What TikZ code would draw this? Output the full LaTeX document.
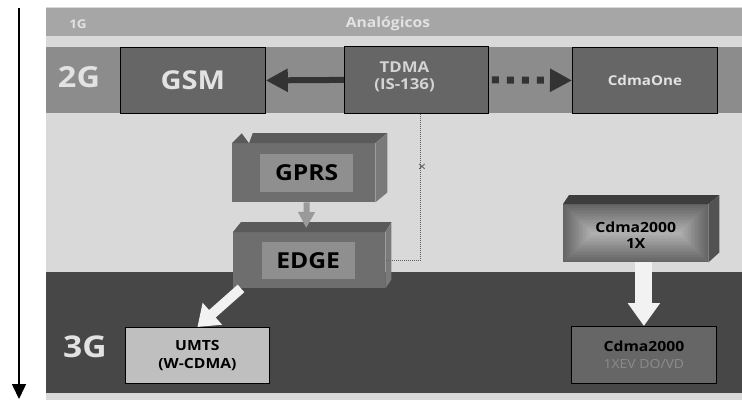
\documentclass[tikz,border=0pt]{standalone}
\usepackage{fontspec}
\setmainfont{Open Sans}[FakeStretch=1.12]
\usetikzlibrary{arrows.meta,calc}
\definecolor{panel}{HTML}{D9D9D9}
\definecolor{bandone}{HTML}{A6A6A6}
\definecolor{bandtwo}{HTML}{8C8C8C}
\definecolor{bandthree}{HTML}{474747}
\definecolor{boxgray}{HTML}{666666}
\definecolor{lighttext}{HTML}{E2E2E2}
\definecolor{tdmatext}{HTML}{D4D4D4}
\definecolor{darkarrow}{HTML}{333333}
\definecolor{frontgray}{HTML}{6E6E6E}
\definecolor{topgray}{HTML}{5A5A5A}
\definecolor{sidegray}{HTML}{7A7A7A}
\definecolor{labelgray}{HTML}{8F8F8F}
\definecolor{umtsgray}{HTML}{BFBFBF}
\definecolor{softgray}{HTML}{8C8C8C}
\definecolor{midgray}{HTML}{9A9A9A}
\definecolor{whitearrow}{HTML}{F2F2F2}
\begin{document}
\begin{tikzpicture}[x=1pt,y=-1pt,
  fnt/.style={font=\fontsize{#1}{#1}\selectfont\bfseries},
  fntl/.style 2 args={font=\fontsize{#1}{#2}\selectfont\bfseries},
  flatbox/.style={draw=black, line width=0.8pt, fill=boxgray, inner sep=0pt, anchor=north west, align=center},
  frontface/.style={fill=frontgray, inner sep=0pt, anchor=north west},
  labelbox/.style={fill=labelgray, inner sep=0pt, text=black},
  bandlabel/.style={text=lighttext, inner sep=0pt},
  darkline/.style={line width=6pt, darkarrow, -{Triangle[width=22pt,length=22pt]}},
  dotsline/.style={line width=7pt, darkarrow, dash pattern=on 7pt off 8pt, -{Triangle[width=22pt,length=22pt]}},
  thindots/.style={line width=1.1pt, black!62, dash pattern=on 0.9pt off 1.1pt},
]
\useasboundingbox (0,0) rectangle (742,400);
% background panel and bands
\fill[panel] (46,7) rectangle (742,400);
\fill[bandone] (46,8) rectangle (742,36);
\fill[bandtwo] (46,47) rectangle (742,113);
\fill[bandthree] (46,272) rectangle (742,393);

% left time arrow
\coordinate (tstart) at (19,8);
\coordinate (tend) at (19,399);
\draw[line width=1.6pt, -{Triangle[width=14pt,length=15pt]}] (tstart) -- (tend);

% band labels
\node[bandlabel, fnt=12] (g1) at (78,24) {1G};
\node[bandlabel, fnt=14] (analog) at (388,24) {Analógicos};
\node[bandlabel, fnt=29] (g2) at (79,77) {2G};
\node[bandlabel, fnt=30] (g3) at (85,347) {3G};

% 2G boxes
\node[flatbox, minimum width=145pt, minimum height=66pt, text=lighttext, fnt=26] (gsm) at (120,47) {GSM};
\node[flatbox, minimum width=144pt, minimum height=67pt] (tdma) at (344,46) {};
\node[inner sep=0pt, align=center, text=tdmatext, fntl={15}{17.5}] (tdmalabel) at (404.5,77) {TDMA\\(IS-136)};
\node[flatbox, minimum width=145pt, minimum height=66pt, text=lighttext, fnt=13.5] (cdmaone) at (572,47) {CdmaOne};

% GPRS 3D box
\node[frontface, minimum width=143pt, minimum height=59pt] (gprsbox) at (232,143) {};
\fill[topgray] (gprsbox.north west) -- ++(10,-10) -- ($(gprsbox.north east)+(12,-10)$) -- (gprsbox.north east) -- cycle;
\fill[sidegray] (gprsbox.north east) -- ++(12,-10) -- ($(gprsbox.south east)+(12,-10)$) -- (gprsbox.south east) -- cycle;
\fill[panel] (241,132) -- (253,132) -- (249,143) -- cycle;
\node[labelbox, minimum width=93pt, minimum height=38pt, fnt=22] (gprs) at ($(gprsbox.center)+(3,0)$) {GPRS};

% EDGE 3D box
\node[frontface, minimum width=152pt, minimum height=56pt] (edgebox) at (233,232) {};
\fill[topgray] (edgebox.north west) -- ++(8,-10) -- ($(edgebox.north east)+(6,-10)$) -- (edgebox.north east) -- cycle;
\fill[sidegray] (edgebox.north east) -- ++(6,-10) -- ($(edgebox.south east)+(6,-9)$) -- (edgebox.south east) -- cycle;
\node[labelbox, minimum width=93pt, minimum height=37pt, fnt=22] (edge) at ($(edgebox.center)+(-1,0.5)$) {EDGE};

% Cdma2000 1X 3D box with a rectangular gradient
\node[anchor=north west, inner sep=0pt, minimum width=145pt, minimum height=58pt] (onex) at (563,204) {};
\foreach \i in {0,...,19} {
  \pgfmathsetmacro\ins{\i*1.45}
  \pgfmathsetmacro\shd{61-\i*1.55}
  \fill[black!\shd] ($(onex.north west)+(\ins,\ins)$) rectangle ($(onex.south east)+(-\ins,-\ins)$);
}
\fill[black!76] (onex.north west) -- ++(6,-9) -- ($(onex.north east)+(11,-9)$) -- (onex.north east) -- cycle;
\fill[black!68] (onex.north east) -- ++(11,-9) -- ($(onex.south east)+(11,-10)$) -- (onex.south east) -- cycle;
\node[inner sep=0pt, align=center, text=black, fntl={14}{16}] (onexlabel) at ($(onex.center)+(0,2)$) {Cdma2000\\1X};

% 3G boxes
\node[flatbox, fill=umtsgray, minimum width=144pt, minimum height=56pt, text=black, fntl={14}{18}] (umts) at (125,327) {UMTS\\(W-CDMA)};
\node[flatbox, minimum width=145pt, minimum height=57pt, text=black, fntl={14}{17}] (evdo) at (571,326)
  {Cdma2000\\{\color{softgray}\mdseries\fontsize{12.5}{17}\selectfont 1XEV DO/VD}};

% connectors
\draw[darkline] (tdma.west) -- (gsm.east);
\draw[dotsline] ($(tdma.east)+(3,0)$) -- (cdmaone.west);
\draw[thindots] ($(tdma.south)+(4,0)$) |- (edgebox.east);
\node[inner sep=0pt, text=black!65, font=\fontsize{13}{13}\selectfont] (xmark) at (422,168) {×};
\draw[line width=6pt, midgray, -{Triangle[width=16pt,length=16pt]}] ($(gprsbox.south)+(3,0)$) -- ($(edgebox.north)+(-3,-4)$);
\draw[line width=10pt, whitearrow, -{Triangle[width=28pt,length=20pt]}] ($(edgebox.south west)+(8,0)$) -- (umts.north);
\draw[line width=17pt, whitearrow, -{Triangle[width=31pt,length=23pt]}] (evdo.north |- onex.south) -- (evdo.north);
\end{tikzpicture}
\end{document}
